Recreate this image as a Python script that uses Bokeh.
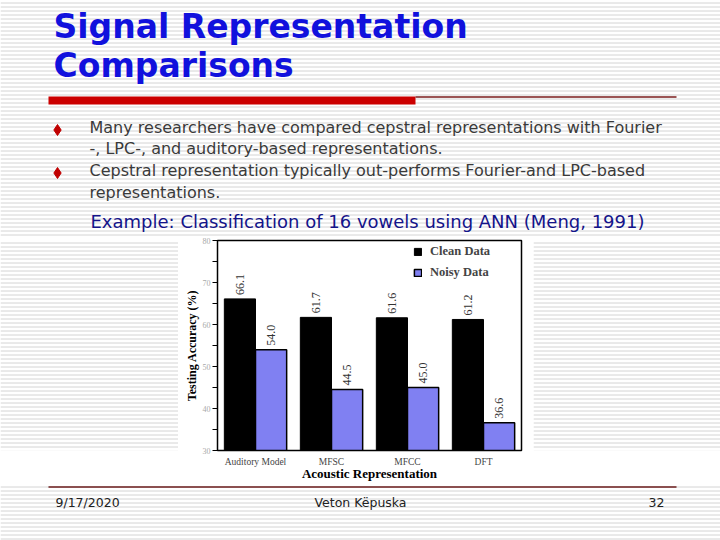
from math import pi
from bokeh.plotting import figure
from bokeh.layouts import column, row
from bokeh.models import (Range1d, FactorRange, ColumnDataSource, LabelSet,
                          Legend, LegendItem, FixedTicker)
from bokeh.transform import dodge
from bokeh.core.properties import value
from bokeh.embed import file_html
from bokeh.resources import INLINE

# ---------------- data ----------------
categories = ["Auditory Model", "MFSC", "MFCC", "DFT"]
clean_data = [66.1, 61.7, 61.6, 61.2]
noisy_data = [54.0, 44.5, 45.0, 36.6]
series_names = ["Clean Data", "Noisy Data"]
y_ticks = [30, 40, 50, 60, 70, 80]
y_minor_ticks = [35, 45, 55, 65, 75]
x_title = "Acoustic Representation"
y_title = "Testing Accuracy (%)"

title_lines = ["Signal Representation", "Comparisons"]
bullet_lines = [
    "Many researchers have compared cepstral representations with Fourier",
    "-, LPC-, and auditory-based representations.",
    "Cepstral representation typically out-performs Fourier-and LPC-based",
    "representations.",
]
example_text = "Example: Classification of 16 vowels using ANN (Meng, 1991)"
footer_date = "9/17/2020"
footer_author = "Veton K\u00ebpuska"
footer_page = "32"

# ---------------- styles ----------------
SANS = value("DejaVu Sans")
SERIF_NAME = "Liberation Serif"
SERIF = value(SERIF_NAME)
RULE = "#d4d4d4"


def panel(x0, x1, y0, y1):
    p = figure(width=x1 - x0, height=y1 - y0,
               x_range=Range1d(x0, x1), y_range=Range1d(y1, y0),
               output_backend="svg", toolbar_location=None, tools="",
               min_border=0, x_axis_location=None, y_axis_location=None,
               outline_line_color=None, background_fill_color="white",
               border_fill_color="white")
    p.grid.visible = False
    p.quad(left=[x0], right=[x1], bottom=[y1], top=[y0], fill_color="white",
           line_color=None, hatch_pattern="horizontal_line", hatch_scale=4,
           hatch_weight=1, hatch_color=RULE)
    return p


# ---------------- header ----------------
head = panel(0, 720, 0, 236)
head.text(x=[53, 53], y=[26, 65], text=title_lines, text_font=SANS,
          text_font_style="bold", text_font_size="33px", text_color="#1111dd",
          text_baseline="middle", text_align="left")
head.quad(left=[48], right=[415], top=[96], bottom=[104],
          fill_color="#cc0000", line_color=None)
head.segment(x0=[415], y0=[96.5], x1=[676], y1=[96.5],
             line_color="#7a1c1c", line_width=1.5)
head.scatter(x=[57, 57], y=[129.5, 172.5], marker="diamond", size=11,
             color="#c00000")
head.text(x=[89] * 4, y=[127, 148, 170, 192], text=bullet_lines,
          text_font=SANS, text_font_size="16px", text_color="#3a3a3a",
          text_baseline="middle", text_align="left")
head.text(x=[90], y=[221], text=[example_text], text_font=SANS,
          text_font_size="18px", text_color="#14148a",
          text_baseline="middle", text_align="left")

# ---------------- chart ----------------
src = ColumnDataSource(dict(
    cat=categories, clean=clean_data, noisy=noisy_data,
    clean_lbl=[f"{v:.1f}" for v in clean_data],
    noisy_lbl=[f"{v:.1f}" for v in noisy_data],
))

c = figure(width=355, height=248,
           x_range=FactorRange(*categories, range_padding=0),
           y_range=Range1d(30, 80),
           output_backend="svg", toolbar_location=None, tools="",
           min_border_left=39, min_border_right=12, min_border_top=4,
           min_border_bottom=34, background_fill_color="white",
           border_fill_color="white", outline_line_color="black",
           outline_line_width=1.5)
c.grid.visible = False

r1 = c.vbar(x=dodge("cat", -0.205, range=c.x_range), top="clean", width=0.41,
            source=src, fill_color="black", line_color="black", line_width=1)
r2 = c.vbar(x=dodge("cat", 0.205, range=c.x_range), top="noisy", width=0.41,
            source=src, fill_color="#8080f2", line_color="black",
            line_width=1.5)

for xoff, col in ((-0.205, "clean"), (0.205, "noisy")):
    c.add_layout(LabelSet(x=dodge("cat", xoff, range=c.x_range), y=col,
                          text=col + "_lbl", source=src, angle=pi / 2,
                          text_align="left", text_baseline="middle",
                          y_offset=4, text_font=SERIF, text_font_size="12px",
                          text_color="#333333"))

c.yaxis.ticker = FixedTicker(ticks=y_ticks, minor_ticks=y_minor_ticks)
c.yaxis.major_tick_out = 5
c.yaxis.major_tick_in = 0
c.yaxis.minor_tick_out = 5
c.yaxis.minor_tick_in = 0
c.yaxis.major_tick_line_color = "black"
c.yaxis.minor_tick_line_color = "black"
c.yaxis.axis_line_color = "black"
c.yaxis.major_label_standoff = 2
c.yaxis.major_label_text_font = SERIF_NAME
c.yaxis.major_label_text_font_size = "8px"
c.yaxis.major_label_text_color = "#a8a8a8"
c.yaxis.axis_label = y_title
c.yaxis.axis_label_text_font = SERIF_NAME
c.yaxis.axis_label_text_font_style = "bold"
c.yaxis.axis_label_text_font_size = "12px"
c.yaxis.axis_label_text_color = "black"
c.yaxis.axis_label_standoff = 1

c.xaxis.major_tick_out = 0
c.xaxis.major_tick_in = 0
c.xaxis.axis_line_color = "black"
c.xaxis.major_label_standoff = 6
c.xaxis.major_label_text_font = SERIF_NAME
c.xaxis.major_label_text_font_size = "9.5px"
c.xaxis.major_label_text_color = "#444444"
c.xaxis.axis_label = x_title
c.xaxis.axis_label_text_font = SERIF_NAME
c.xaxis.axis_label_text_font_style = "bold"
c.xaxis.axis_label_text_font_size = "13px"
c.xaxis.axis_label_text_color = "black"
c.xaxis.axis_label_standoff = -4

legend = Legend(items=[LegendItem(label=series_names[0], renderers=[r1]),
                       LegendItem(label=series_names[1], renderers=[r2])],
                location=(196, 170), orientation="vertical",
                glyph_width=9, glyph_height=9, label_height=10, spacing=6,
                padding=0, margin=0, border_line_color=None,
                background_fill_alpha=0, label_text_font=SERIF_NAME,
                label_text_font_style="bold", label_text_font_size="12.5px",
                label_standoff=8)
c.add_layout(legend)

left = panel(0, 178, 236, 484)
right = panel(533, 720, 236, 484)

# ---------------- footer ----------------
foot = panel(0, 720, 484, 540)
foot.segment(x0=[48], y0=[486.5], x1=[676], y1=[486.5],
             line_color="#6b1c1c", line_width=1.5)
foot.text(x=[55], y=[502], text=[footer_date], text_font=SANS,
          text_font_size="12.5px", text_color="#222222",
          text_baseline="middle", text_align="left")
foot.text(x=[360], y=[502], text=[footer_author], text_font=SANS,
          text_font_size="12.5px", text_color="#222222",
          text_baseline="middle", text_align="center")
foot.text(x=[664], y=[502], text=[footer_page], text_font=SANS,
          text_font_size="12.5px", text_color="#222222",
          text_baseline="middle", text_align="right")

layout = column(head, row(left, c, right), foot)
open("out.html", "w").write(file_html(layout, INLINE))
